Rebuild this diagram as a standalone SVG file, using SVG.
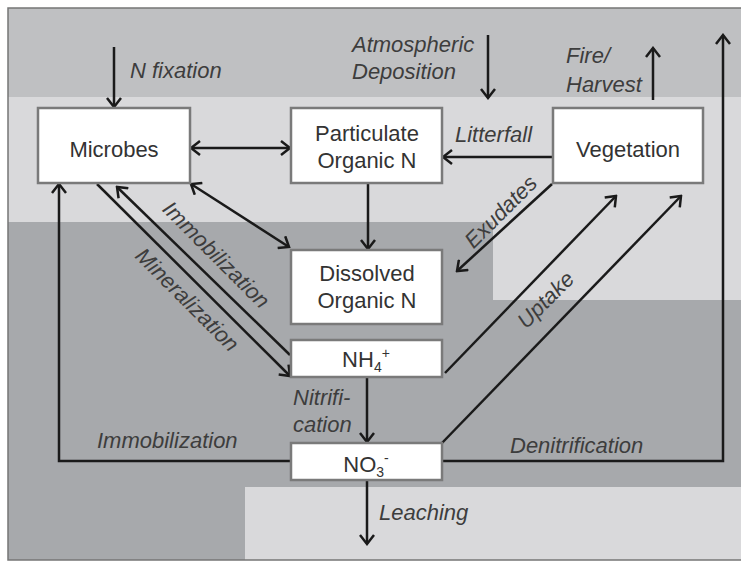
<svg xmlns="http://www.w3.org/2000/svg" width="741" height="561" viewBox="0 0 741 561">
<defs>
<style>
.node rect{fill:#ffffff;stroke:#7a7a7a;stroke-width:2.5}
.node text{font-family:"Liberation Sans",Arial,sans-serif;font-size:22px;fill:#333333;text-anchor:middle}
.lbl{font-family:"Liberation Sans",Arial,sans-serif;font-size:22px;font-style:italic;fill:#3d3d3d}
.c{stroke:#1a1a1a;stroke-width:2.5;fill:none;marker-end:url(#ah)}
.d{marker-start:url(#ah)}
</style>
<marker id="ah" viewBox="0 0 12 16" refX="10" refY="8" markerWidth="12" markerHeight="16" markerUnits="userSpaceOnUse" orient="auto-start-reverse">
<path d="M1,1 L10,8 L1,15" fill="none" stroke="#1a1a1a" stroke-width="2.5" stroke-linejoin="miter"/>
</marker>
</defs>
<g id="background">
<rect x="0" y="0" width="741" height="561" fill="#ffffff"/>
<rect x="8" y="8" width="733" height="89" fill="#bfc0c2"/>
<rect x="8" y="97" width="733" height="125" fill="#d9d9db"/>
<rect x="493" y="222" width="248" height="78" fill="#d9d9db"/>
<polygon points="8,222 493,222 493,300 741,300 741,487 245,487 245,560 8,560" fill="#a7a9ac"/>
<rect x="245" y="487" width="496" height="73" fill="#d9d9db"/>
<rect x="8" y="8" width="740" height="552" fill="none" stroke="#767676" stroke-width="1.5"/>
</g>
<g id="connectors">
<line class="c" x1="114" y1="47" x2="114" y2="107"/>
<line class="c" x1="488" y1="35" x2="488" y2="98"/>
<line class="c" x1="653" y1="100" x2="653" y2="48"/>
<path class="c" d="M442,461 H723 V35"/>
<path class="c" d="M291,461 H59 V184"/>
<line class="c d" x1="191" y1="148" x2="290" y2="148"/>
<line class="c" x1="553" y1="157" x2="443" y2="157"/>
<line class="c" x1="368" y1="184" x2="368" y2="249"/>
<line class="c d" x1="191" y1="184" x2="289" y2="247"/>
<line class="c" x1="290" y1="355" x2="117" y2="187"/>
<line class="c" x1="97" y1="184" x2="290" y2="376"/>
<line class="c" x1="552" y1="184" x2="457" y2="271"/>
<line class="c" x1="445" y1="373" x2="616" y2="196"/>
<line class="c" x1="442" y1="443" x2="681" y2="196"/>
<line class="c" x1="367" y1="378" x2="367" y2="442"/>
<line class="c" x1="367" y1="481" x2="367" y2="544"/>
</g>
<g id="labels">
<text class="lbl" x="130" y="78">N fixation</text>
<text class="lbl" x="352" y="52">Atmospheric</text>
<text class="lbl" x="352" y="79">Deposition</text>
<text class="lbl" x="566" y="63">Fire/</text>
<text class="lbl" x="566" y="92">Harvest</text>
<text class="lbl" x="455" y="142">Litterfall</text>
<text class="lbl" x="97" y="448">Immobilization</text>
<text class="lbl" x="510" y="453">Denitrification</text>
<text class="lbl" x="379" y="520">Leaching</text>
<text class="lbl" x="293" y="405">Nitrifi-</text>
<text class="lbl" x="293" y="432">cation</text>
<text class="lbl" text-anchor="middle" transform="translate(211,260) rotate(45)">Immobilization</text>
<text class="lbl" text-anchor="middle" transform="translate(182,305) rotate(45)">Mineralization</text>
<text class="lbl" text-anchor="middle" transform="translate(506,217) rotate(-45)">Exudates</text>
<text class="lbl" text-anchor="middle" transform="translate(551,305) rotate(-45)">Uptake</text>
</g>
<g id="microbes" class="node">
<rect x="38" y="108" width="152" height="75"/>
<text x="114" y="157">Microbes</text>
</g>
<g id="particulate" class="node">
<rect x="291" y="108" width="151" height="75"/>
<text x="367" y="141">Particulate</text>
<text x="367" y="168">Organic N</text>
</g>
<g id="vegetation" class="node">
<rect x="553" y="108" width="150" height="75"/>
<text x="628" y="157">Vegetation</text>
</g>
<g id="dissolved" class="node">
<rect x="291" y="250" width="151" height="74"/>
<text x="367" y="281">Dissolved</text>
<text x="367" y="308">Organic N</text>
</g>
<g id="nh4" class="node">
<rect x="291" y="340" width="151" height="37"/>
<text x="366" y="367">NH<tspan font-size="14" dy="5">4</tspan><tspan font-size="14" dy="-14">+</tspan></text>
</g>
<g id="no3" class="node">
<rect x="291" y="443" width="151" height="37"/>
<text x="366" y="472">NO<tspan font-size="14" dy="5">3</tspan><tspan font-size="14" dy="-14">-</tspan></text>
</g>
</svg>
